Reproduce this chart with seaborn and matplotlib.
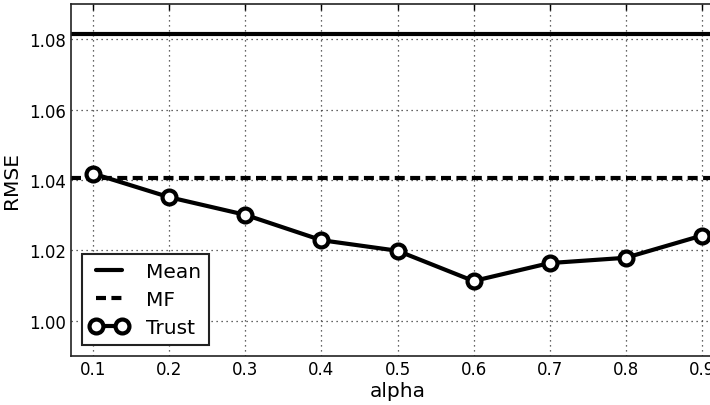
import numpy as np
import pandas as pd
import matplotlib
matplotlib.use("Agg")
import matplotlib.pyplot as plt
import seaborn as sns

alpha = [0.1, 0.2, 0.3, 0.4, 0.5, 0.6, 0.7, 0.8, 0.9]
trust_rmse = [1.0418, 1.0351, 1.0301, 1.0229, 1.0199, 1.0113, 1.0164, 1.0179, 1.0242]
mean_rmse = 1.0816
mf_rmse = 1.0405

sns.set_style("white")
plt.rcParams['font.family'] = ['DejaVu Sans']
plt.rcParams['xtick.direction'] = 'in'
plt.rcParams['ytick.direction'] = 'in'
plt.rcParams['text.color'] = 'black'
plt.rcParams['axes.labelcolor'] = 'black'
plt.rcParams['xtick.color'] = 'black'
plt.rcParams['ytick.color'] = 'black'

df = pd.DataFrame({"alpha": alpha, "RMSE": trust_rmse})

fig = plt.figure(figsize=(7.1, 4.06), dpi=100)
# axes extend past the right edge, as in the cropped reference
ax = fig.add_axes([70.5 / 710, 1 - 357 / 406, 654 / 710, 352 / 406])

ax.axhline(mean_rmse, color="black", lw=3, label="Mean")
ax.axhline(mf_rmse, color="black", lw=3, ls=(0, (2.4, 1.3)), label="MF")
sns.lineplot(data=df, x="alpha", y="RMSE", ax=ax, color="black", lw=3,
             marker="o", markersize=10, markerfacecolor="white",
             markeredgecolor="black", markeredgewidth=3, label="Trust")

ax.set_xlim(0.07, 0.93)
ax.set_ylim(0.99, 1.09)
ax.set_xticks(alpha)
ax.set_yticks([1.00, 1.02, 1.04, 1.06, 1.08])
ax.set_yticklabels(["1.00", "1.02", "1.04", "1.06", "1.08"])
ax.grid(True, color="#333333", ls=(0, (1, 3)), lw=0.9)
ax.tick_params(labelsize=12, length=4, width=1, top=True, right=True, pad=3)
ax.set_xlabel("alpha", fontsize=14.5, labelpad=2)
ax.set_ylabel("RMSE", fontsize=14.5, labelpad=6)
for s in ax.spines.values():
    s.set_color("#222222")
    s.set_linewidth(1.2)

leg = ax.legend(loc="lower left", fontsize=14.5, frameon=True, fancybox=False,
                handlelength=1.9, borderaxespad=0.55, labelspacing=0.45,
                numpoints=2, handletextpad=0.9, borderpad=0.4)
leg.get_frame().set_edgecolor("#222222")
leg.get_frame().set_linewidth(1.5)
leg.get_frame().set_alpha(1)

fig.savefig("out.png", dpi=100)
